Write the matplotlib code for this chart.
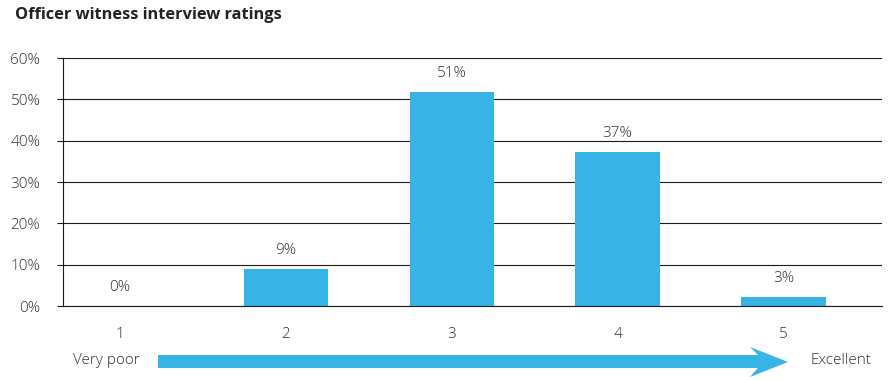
import matplotlib
matplotlib.use("Agg")
import matplotlib.pyplot as plt
from matplotlib.patches import Polygon

# ---- data ----
categories = ["1", "2", "3", "4", "5"]
values = [0.0, 9.0, 51.8, 37.3, 2.2]
value_labels = ["0%", "9%", "51%", "37%", "3%"]
yticks = [0, 10, 20, 30, 40, 50, 60]
ytick_labels = ["0%", "10%", "20%", "30%", "40%", "50%", "60%"]
title = "Officer witness interview ratings"
low_label = "Very poor"
high_label = "Excellent"

BLUE = "#38B3E6"
TXT = "#333333"
FONT = "Open Sans"
FS = 11

W, H = 889, 380
fig = plt.figure(figsize=(W / 100, H / 100), dpi=100)
ax = fig.add_axes([63 / W, (H - 306) / H, (882 - 63) / W, (306 - 58) / H])

x = list(range(1, len(categories) + 1))
ax.bar(x, values, width=0.51, color=BLUE, zorder=3)

ax.set_xlim(0.656, 5.593)
ax.set_ylim(0, 60)
ax.set_yticks(yticks)
ax.set_yticklabels(ytick_labels)
ax.set_xticks(x)
ax.set_xticklabels(categories)

ax.yaxis.grid(True, color="#1a1a1a", linewidth=0.8, zorder=1)
ax.set_axisbelow(True)
for s in ["top", "right"]:
    ax.spines[s].set_visible(False)
for s in ["left", "bottom"]:
    ax.spines[s].set_color("#1a1a1a")
    ax.spines[s].set_linewidth(0.8)
    ax.spines[s].set_zorder(4)

ax.tick_params(axis="y", length=4.3, width=0.8, color="#1a1a1a", pad=12,
               labelsize=FS, labelcolor=TXT)
ax.tick_params(axis="x", length=0, pad=15, labelsize=FS, labelcolor=TXT)
for lab in ax.get_xticklabels() + ax.get_yticklabels():
    lab.set_fontfamily(FONT)
    lab.set_fontweight("light")

for xi, v, lab in zip(x, values, value_labels):
    ax.annotate(lab, (xi, v), xytext=(0, 13), textcoords="offset points",
                ha="center", va="center", fontsize=FS, color=TXT,
                family=FONT, fontweight="light")

fig.text(15 / W, 1 - 15 / H, title, ha="left", va="center", fontsize=11.8,
         fontweight="bold", color="#222222", family=FONT)

# arrow along the bottom (decoration)
def P(px, py):
    return (px / W, 1 - py / H)

pts = [P(158, 355), P(758, 355), P(750, 347), P(788, 362),
       P(750, 377), P(758, 368), P(158, 368)]
fig.patches.append(Polygon(pts, closed=True, facecolor=BLUE, edgecolor="none",
                           transform=fig.transFigure, figure=fig))

fig.text(73 / W, 1 - 361 / H, low_label, ha="left", va="center", fontsize=FS,
         color=TXT, family=FONT, fontweight="light")
fig.text(810 / W, 1 - 361 / H, high_label, ha="left", va="center", fontsize=FS,
         color=TXT, family=FONT, fontweight="light")

fig.savefig("out.png", dpi=100)
